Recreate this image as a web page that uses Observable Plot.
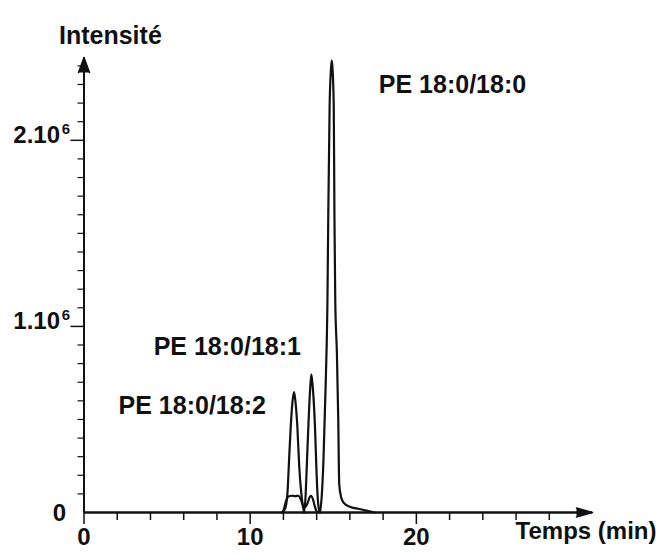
<!DOCTYPE html>
<html><head><meta charset="utf-8">
<script src="https://cdn.jsdelivr.net/npm/d3@7"></script>
<script src="https://cdn.jsdelivr.net/npm/@observablehq/plot@0.6"></script>
<style>
body{margin:0;background:#fff}
#chart svg{font-family:"Liberation Sans",Arial,sans-serif;overflow:visible}
</style>
</head><body><div id="chart"></div>
<script>
// Retention time (min) and intensity (×10^6)
const time18_2 = [11.9, 12.1, 12.24, 12.35, 12.44, 12.55, 12.64, 12.72, 12.84, 12.95, 13.08, 13.2, 13.3];
const int18_2  = [0, 0.02, 0.1, 0.3, 0.46, 0.6, 0.647, 0.6, 0.46, 0.25, 0.1, 0.02, 0];

const time18_1 = [13.2, 13.3, 13.34, 13.42, 13.5, 13.6, 13.68, 13.76, 13.9, 13.98, 14.05, 14.13, 14.2];
const int18_1  = [0, 0.04, 0.1, 0.28, 0.46, 0.65, 0.742, 0.68, 0.46, 0.25, 0.1, 0.02, 0];

const time18_0 = [14.2, 14.3, 14.41, 14.55, 14.65, 14.7, 14.78, 14.86, 14.91, 14.96, 15.03, 15.07, 15.12, 15.22, 15.3, 15.36, 15.48, 15.65, 15.85, 16.2, 16.5, 17.0, 17.5];
const int18_0  = [0, 0.08, 0.28, 0.71, 1.14, 1.6, 2.18, 2.38, 2.43, 2.38, 2.18, 1.6, 1.14, 0.85, 0.5, 0.15, 0.08, 0.05, 0.037, 0.025, 0.02, 0.01, 0];

const timeLow = [11.9, 12.0, 12.15, 12.3, 12.5, 12.7, 12.9, 13.05, 13.2, 13.32, 13.45, 13.6, 13.68, 13.78, 13.9, 14.0, 14.1];
const intLow  = [0, 0.01, 0.06, 0.086, 0.09, 0.088, 0.09, 0.07, 0.035, 0.03, 0.05, 0.085, 0.09, 0.07, 0.03, 0.005, 0];

const peakNames = ["PE 18:0/18:2", "PE 18:0/18:1", "PE 18:0/18:0"];

const xMajorTicks = [0, 10, 20];
const xMinorTicks = [2, 4, 6, 8, 12, 14, 16, 18, 22, 24, 26, 28];
const yMajorTicks = [1, 2];
const yMantissa = ["1.10", "2.10"];
const yExponent = ["6", "6"];
const yMinorTicks = [0.1, 0.2, 0.3, 0.4, 0.5, 0.6, 0.7, 0.8, 0.9, 1.1, 1.2, 1.3, 1.4, 1.5, 1.6, 1.7, 1.8, 1.9, 2.1, 2.2, 2.3, 2.4];
const xMax = 30.6, yMax = 2.445;

const series = [
  {name: peakNames[0], t: time18_2, v: int18_2},
  {name: peakNames[1], t: time18_1, v: int18_1},
  {name: peakNames[2], t: time18_0, v: int18_0},
  {name: "low", t: timeLow, v: intLow}
];
const rows = series.flatMap(s => s.t.map((t, i) => ({series: s.name, t, v: s.v[i]})));

// annotation anchors (data space)
const notes = [
  {text: peakNames[0], t: 2.08, v: 0.57},
  {text: peakNames[1], t: 4.19, v: 0.887},
  {text: peakNames[2], t: 17.74, v: 2.296}
];

const ink = "#111";
const fs = 24;
const chart = Plot.plot({
  width: 659, height: 555,
  marginLeft: 83.5, marginRight: 67, marginTop: 57, marginBottom: 43,
  x: {domain: [0, xMax], axis: null},
  y: {domain: [0, yMax], axis: null},
  marks: [
    Plot.line(rows, {x: "t", y: "v", z: "series", stroke: ink, strokeWidth: 2.2, curve: "monotone-x"}),
    Plot.axisX({ticks: xMinorTicks, tickSize: 8, tickFormat: () => "", label: null, stroke: ink, strokeWidth: 1.5}),
    Plot.axisX({ticks: xMajorTicks, tickSize: 12, tickFormat: () => "", label: null, stroke: ink, strokeWidth: 1.5}),
    Plot.axisY({ticks: yMinorTicks, tickSize: 6, tickFormat: () => "", label: null, stroke: ink, strokeWidth: 1.2}),
    Plot.axisY({ticks: yMajorTicks, tickSize: 13, tickFormat: () => "", label: null, stroke: ink, strokeWidth: 1.5}),
    Plot.ruleY([0], {x1: 0, x2: xMax, stroke: ink, strokeWidth: 2.5}),
    Plot.ruleX([0], {y1: 0, y2: yMax, stroke: ink, strokeWidth: 2}),
    Plot.vector([0], {x: xMax, y: 0, length: 16, r: 4.5, rotate: 90, shape: "spike", anchor: "end", fill: ink, stroke: ink, fillOpacity: 1}),
    Plot.vector([0], {x: 0, y: yMax, length: 15, r: 5.5, rotate: 0, shape: "spike", anchor: "end", fill: ink, stroke: ink, fillOpacity: 1}),
    Plot.text(xMajorTicks, {x: d => d, y: 0, text: d => String(d), dy: 25, fontSize: fs, fontWeight: "bold", fill: ink}),
    Plot.text(yMajorTicks, {frameAnchor: "left", y: d => d, text: (d, i) => yMantissa[i], textAnchor: "end", dx: -24, dy: -5, fontSize: fs, fontWeight: "bold", fill: ink}),
    Plot.text(yMajorTicks, {frameAnchor: "left", y: d => d, text: (d, i) => yExponent[i], textAnchor: "end", dx: -14, dy: -11, fontSize: 15, fontWeight: "bold", fill: ink}),
    Plot.text(["0"], {frameAnchor: "left", y: () => 0, text: d => d, textAnchor: "end", dx: -18, dy: 1, fontSize: fs, fontWeight: "bold", fill: ink}),
    Plot.text(["Temps (min)"], {frameAnchor: "bottom-right", textAnchor: "end", dx: 64, dy: 26, fontSize: fs, fontWeight: "bold", fill: ink}),
    Plot.text(["Intensité"], {frameAnchor: "top-left", textAnchor: "start", dx: -25, dy: -31, fontSize: 25, fontWeight: "bold", fill: ink}),
    Plot.text(notes, {x: "t", y: "v", text: "text", textAnchor: "start", fontSize: 25, fontWeight: "bold", fill: ink})
  ]
});
document.getElementById("chart").append(chart);
</script>
</body></html>
